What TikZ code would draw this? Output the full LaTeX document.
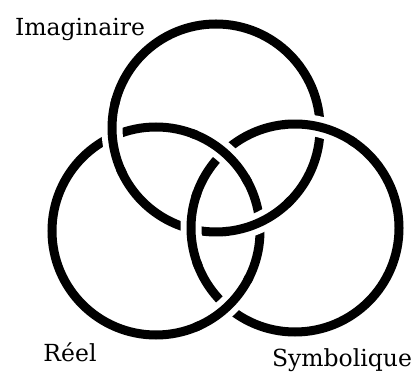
\documentclass[tikz,border=0pt]{standalone}
\usepackage{fontspec}
\setmainfont{DejaVu Serif}

\begin{document}
\begin{tikzpicture}[
    x=1pt, y=1pt,
    ring/.style={
        draw=black,
        line width=9pt
    },
    gap/.style={
        draw=white,
        line width=21pt
    },
    lbl/.style={
        font=\fontsize{23.5}{26}\selectfont,
        anchor=base,
        inner sep=0pt
    },
]
\useasboundingbox (0,0) rectangle (419,374);

% centres
\coordinate (imag) at (216,246);
\coordinate (reel) at (156,143);
\coordinate (symb) at (295,146);

% rings
\draw[ring] (imag) circle[radius=104];
\draw[ring] (reel) circle[radius=104];
\draw[ring] (symb) circle[radius=104];

% crossings: imaginaire over reel
\draw[gap]  (imag) ++(-83:104) arc[start angle=-83, end angle=-47, radius=104];
\draw[ring] (imag) ++(-86:104) arc[start angle=-86, end angle=-44, radius=104];
\draw[gap]  (imag) ++(167:104) arc[start angle=167, end angle=203, radius=104];
\draw[ring] (imag) ++(164:104) arc[start angle=164, end angle=206, radius=104];

% crossings: symbolique over imaginaire
\draw[gap]  (symb) ++(58:104) arc[start angle=58, end angle=94, radius=104];
\draw[ring] (symb) ++(55:104) arc[start angle=55, end angle=97, radius=104];
\draw[gap]  (symb) ++(163:104) arc[start angle=163, end angle=199, radius=104];
\draw[ring] (symb) ++(160:104) arc[start angle=160, end angle=202, radius=104];

% crossings: reel over symbolique
\draw[gap]  (reel) ++(31:104) arc[start angle=31, end angle=67, radius=104];
\draw[ring] (reel) ++(28:104) arc[start angle=28, end angle=70, radius=104];
\draw[gap]  (reel) ++(-65:104) arc[start angle=-65, end angle=-29, radius=104];
\draw[ring] (reel) ++(-68:104) arc[start angle=-68, end angle=-26, radius=104];

% labels
\node[lbl] (imaglbl) at (80,338) {Imaginaire};
\node[lbl] (reellbl) at (70,13) {Réel};
\node[lbl] (symblbl) at (342,8) {Symbolique};

\end{tikzpicture}
\end{document}
